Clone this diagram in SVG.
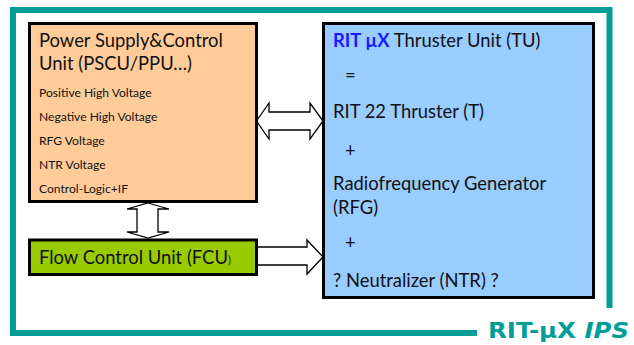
<svg xmlns="http://www.w3.org/2000/svg" width="634" height="345" viewBox="0 0 634 345">
<style>
.t{font-family:Lato,"Open Sans","DejaVu Sans",sans-serif;fill:#111}
.big{font-size:18.4px}
.sm{font-size:12.1px}
.box{stroke:#000;stroke-width:3}
.arr{fill:#fff;stroke:#000;stroke-width:1.3;stroke-linejoin:miter}
.teal{fill:none;stroke:#009e96;stroke-width:6}
</style>
<rect width="634" height="345" fill="#fff"/>
<g id="frame">
<polyline class="teal" points="477,333 13,333 13,10 609.5,10 609.5,308"/>
<text x="488" y="338" font-family="'DejaVu Sans',sans-serif" font-weight="bold" font-size="21" fill="#009e96" textLength="141" lengthAdjust="spacingAndGlyphs">RIT-µX <tspan font-style="italic">IPS</tspan></text>
</g>
<g id="connectors">
<polygon class="arr" points="256.5,121 269,103 269,112 310,112 310,103 323,121 310,139 310,130 269,130 269,139"/>
<polygon class="arr" points="148,203 169,209 158,209 158,232 169,232 148,238 127,232 137,232 137,209 127,209"/>
<polygon class="arr" points="257,247 307,247 307,240 323,257 307,274 307,265 257,265"/>
</g>
<g id="pscu">
<rect class="box" x="29.5" y="23.5" width="227" height="178" fill="#ffcc99"/>
<text class="t big" x="39" y="47">Power Supply&amp;Control</text>
<text class="t big" x="39" y="70">Unit (PSCU/PPU…)</text>
<text class="t sm" x="39" y="97">Positive High Voltage</text>
<text class="t sm" x="39" y="121">Negative High Voltage</text>
<text class="t sm" x="39" y="145">RFG Voltage</text>
<text class="t sm" x="39" y="169">NTR Voltage</text>
<text class="t sm" x="39" y="193">Control-Logic+IF</text>
</g>
<g id="fcu">
<rect class="box" x="29.5" y="240" width="227" height="34.5" fill="#99cc00"/>
<text class="t big" x="39" y="264">Flow Control Unit (FCU<tspan font-size="11">)</tspan></text>
</g>
<g id="tu">
<rect class="box" x="323.5" y="23.5" width="270" height="274" fill="#99ccff"/>
<text class="t big" x="333" y="47"><tspan font-weight="bold" fill="#1a1aff">RIT µX</tspan> Thruster Unit (TU)</text>
<text class="t big" x="345" y="82">=</text>
<text class="t big" x="333" y="118">RIT 22 Thruster (T)</text>
<text class="t big" x="345" y="157">+</text>
<text class="t big" x="333" y="190">Radiofrequency Generator</text>
<text class="t big" x="333" y="214">(RFG)</text>
<text class="t big" x="345" y="249">+</text>
<text class="t big" x="333" y="287">? Neutralizer (NTR) ?</text>
</g>
</svg>
